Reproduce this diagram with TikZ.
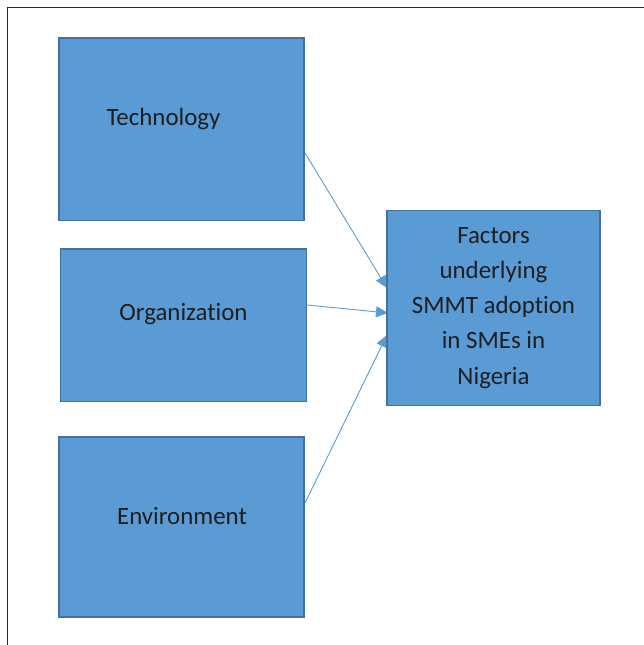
\documentclass[tikz,border=0pt]{standalone}
\usepackage{fontspec}
\setmainfont{Carlito}[Ligatures={NoCommon}]
\usetikzlibrary{arrows.meta}
\definecolor{boxfill}{HTML}{5B9BD5}
\definecolor{boxline}{HTML}{41719C}
\definecolor{txt}{HTML}{1E1E1E}
\tikzset{
  blockbox/.style={rectangle, draw=boxline, fill=boxfill, line width=1.6pt, inner sep=0pt, outer sep=0pt},
  lbl/.style={text=txt, font=\fontsize{24.9}{35.2}\selectfont, inner sep=0pt},
  conn/.style={draw=boxfill, line width=0.9pt, -{Triangle[length=12pt,width=11pt]}}
}
\begin{document}
\begin{tikzpicture}[x=1pt,y=-1pt]
\useasboundingbox (0,0) rectangle (644,645);
% frame (top and left visible)
\draw[line width=1.2pt, color=black!85] (7.5,645) -- (7.5,7.5) -- (644,7.5);
% arrows first so the tips sit beneath the target box
\coordinate (t1) at (305,153);
\coordinate (o1) at (307.3,305);
\coordinate (e1) at (305,503);
\coordinate (t2) at (387,288);
\coordinate (o2) at (388,313);
\coordinate (e2) at (387,335);
\draw[conn] (t1) -- (t2);
\draw[conn] (o1) -- (o2);
\draw[conn] (e1) -- (e2);
% boxes
\node[blockbox, minimum width=245pt, minimum height=182.5pt] (tech) at (181.5,129.3) {};
\node[blockbox, minimum width=246pt, minimum height=152.5pt] (org) at (183.5,325.3) {};
\node[blockbox, minimum width=245.5pt, minimum height=180pt] (env) at (181.5,526.8) {};
\node[blockbox, minimum width=213.5pt, minimum height=195pt, align=center, text=txt,
      font=\fontsize{24.9}{35.2}\selectfont] (goal) at (493.5,307.8)
      {Factors\\underlying\\SMMT adoption\\in SMEs in\\Nigeria};
% labels
\node[lbl] (techl) at (163.5,119) {Technology};
\node[lbl] (orgl) at (183.5,314) {Organization};
\node[lbl] (envl) at (182,516.5) {Environment};
\end{tikzpicture}
\end{document}
